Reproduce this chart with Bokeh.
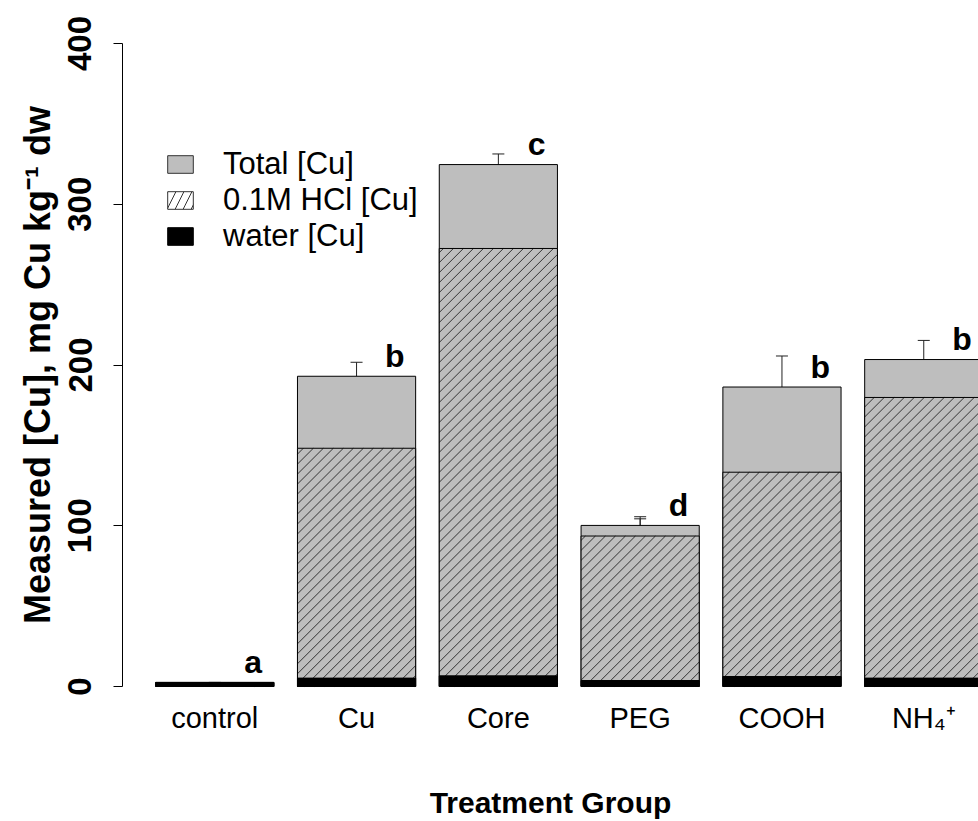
import math
from bokeh.plotting import figure
from bokeh.models import (Range1d, FixedTicker, Whisker, TeeHead, ColumnDataSource,
                          Legend, LegendItem)
from bokeh.core.properties import value
from bokeh.embed import file_html
from bokeh.resources import INLINE

# ---- data ----
categories = ["control", "Cu", "Core", "PEG", "COOH", "NH\u2084\u207a"]
water = [2.5, 5.2, 6.6, 3.7, 6.2, 5.2]
hcl = [2.5, 148.2, 272.5, 93.6, 133.3, 179.8]
hcl_se = [0.0, 11.4, 7.0, 10.7, 9.2, 5.1]
total = [2.5, 193.0, 324.7, 100.2, 186.3, 203.4]
total_se = [0.0, 8.7, 6.6, 5.4, 19.3, 11.9]
letters = ["a", "b", "c", "d", "b", "b"]
y_ticks = [0, 100, 200, 300, 400]

# ---- layout / style ----
FONT = "Liberation Sans"
GRAY = "#bebebe"
HATCH = "#333333"
BAR_W = 1 / 1.2
W, H = 978, 821
BL, BR, BT, BB = 122, 0, 35, 126          # borders around the frame
X0, X1 = -0.6506, 5.386
Y0, Y1 = -5, 405
HATCH_STEP = 10                            # px between hatch lines (horizontally)

xs = list(range(len(categories)))
src = ColumnDataSource(dict(
    x=xs, water=water, hcl=hcl, total=total,
    hcl_hi=[h + s for h, s in zip(hcl, hcl_se)],
    total_hi=[t + s for t, s in zip(total, total_se)],
    lx=[x + 0.27 for x in xs],
    ly=[t + 12.5 for t in total],
    letter=letters,
))

# 45-degree "/" hatch lines clipped to each HCl bar (computed in screen space)
kx = (W - BL - BR) / (X1 - X0)   # px per x unit
ky = (H - BT - BB) / (Y1 - Y0)   # px per y unit
hx0, hy0, hx1, hy1 = [], [], [], []
for xc, top in zip(xs, hcl):
    ax0, ax1 = (xc - BAR_W / 2) * kx, (xc + BAR_W / 2) * kx
    ay0, ay1 = 0.0, top * ky
    n0 = math.floor((ax0 - ay1) / HATCH_STEP)
    n1 = math.ceil((ax1 - ay0) / HATCH_STEP)
    for n in range(n0, n1 + 1):
        c = n * HATCH_STEP
        lo = max(ay0, ax0 - c)
        hi = min(ay1, ax1 - c)
        if hi - lo > 0.5:
            hx0.append((c + lo) / kx); hy0.append(lo / ky)
            hx1.append((c + hi) / kx); hy1.append(hi / ky)

p = figure(width=W, height=H,
           x_range=Range1d(X0, X1), y_range=Range1d(Y0, Y1),
           output_backend="svg", toolbar_location=None,
           min_border_left=BL, min_border_right=BR,
           min_border_top=BT, min_border_bottom=BB)
p.outline_line_color = None
p.xgrid.visible = False
p.ygrid.visible = False
p.background_fill_color = "white"
p.border_fill_color = "white"

# stacked layers, drawn back to front
p.vbar(x="x", top="total", bottom=0, width=BAR_W, source=src,
       fill_color=GRAY, line_color="black", line_width=1)
p.vbar(x="x", top="hcl", bottom=0, width=BAR_W, source=src,
       fill_color=GRAY, line_color=None)
p.segment(x0=hx0, y0=hy0, x1=hx1, y1=hy1, line_color=HATCH, line_width=1)
p.vbar(x="x", top="hcl", bottom=0, width=BAR_W, source=src,
       fill_color=None, line_color="black", line_width=1)
p.vbar(x="x", top="water", bottom=0, width=BAR_W, source=src,
       fill_color="black", line_color="black", line_width=1)

# error bars (upper only)
for lo, hi in (("total", "total_hi"), ("hcl", "hcl_hi")):
    w = Whisker(source=src, base="x", lower=lo, upper=hi, dimension="height",
                line_color="#222222", line_width=1,
                upper_head=TeeHead(size=12, line_color="#222222", line_width=1),
                lower_head=None)
    p.add_layout(w)

# significance letters
p.text(x="lx", y="ly", text="letter", source=src,
       text_font=value(FONT), text_font_style="bold", text_font_size="32px",
       text_align="center", text_baseline="middle", text_color="black")

# legend proxies (a single NaN row: nothing is drawn in the plot area)
nan = float("nan")
proxy = ColumnDataSource(dict(x=[nan], top=[nan]))
l_total = p.vbar(x="x", top="top", width=0.5, source=proxy,
                 fill_color=GRAY, line_color="#333333", line_width=1)
l_hcl = p.vbar(x="x", top="top", width=0.5, source=proxy,
               fill_color="white", line_color="#333333", line_width=1,
               hatch_pattern="/", hatch_color=HATCH, hatch_weight=1,
               hatch_scale=16)
l_water = p.vbar(x="x", top="top", width=0.5, source=proxy,
                 fill_color="black", line_color="black", line_width=1)
legend = Legend(items=[
    LegendItem(label="Total [Cu]", renderers=[l_total]),
    LegendItem(label="0.1M HCl [Cu]", renderers=[l_hcl]),
    LegendItem(label="water [Cu]", renderers=[l_water]),
], location=(42, 440))
legend.border_line_color = None
legend.background_fill_alpha = 0
legend.padding = 0
legend.margin = 0
legend.spacing = 0
legend.glyph_width = 32
legend.glyph_height = 22
legend.label_standoff = 27
legend.label_text_font = FONT
legend.label_text_font_size = "31px"
legend.label_text_color = "black"
p.add_layout(legend)

# x axis: names only
xa = p.xaxis[0]
xa.ticker = FixedTicker(ticks=xs)
xa.major_label_overrides = {i: c for i, c in zip(xs, categories)}
xa.axis_line_color = None
xa.major_tick_line_color = None
xa.minor_tick_line_color = None
xa.major_tick_out = 0
xa.major_tick_in = 0
xa.major_label_standoff = 7
xa.major_label_text_font = FONT
xa.major_label_text_font_size = "29px"
xa.major_label_text_color = "black"
xa.axis_label = "Treatment Group"
xa.axis_label_text_font = FONT
xa.axis_label_text_font_style = "bold"
xa.axis_label_text_font_size = "30px"
xa.axis_label_text_color = "black"
xa.axis_label_standoff = 49

# y axis
ya = p.yaxis[0]
ya.ticker = FixedTicker(ticks=y_ticks)
ya.bounds = (0, 400)
ya.axis_line_color = "black"
ya.axis_line_width = 1
ya.major_tick_out = 9
ya.major_tick_in = 0
ya.minor_tick_line_color = None
ya.major_label_orientation = "vertical"
ya.major_label_standoff = 22
ya.major_label_text_font = FONT
ya.major_label_text_font_style = "bold"
ya.major_label_text_font_size = "33px"
ya.major_label_text_color = "black"
ya.axis_label = "Measured [Cu], mg Cu kg\u207b\u00b9 dw"
ya.axis_label_text_font = FONT
ya.axis_label_text_font_style = "bold"
ya.axis_label_text_font_size = "36px"
ya.axis_label_text_color = "black"
ya.axis_label_standoff = 8

open("out.html", "w").write(file_html(p, INLINE))
